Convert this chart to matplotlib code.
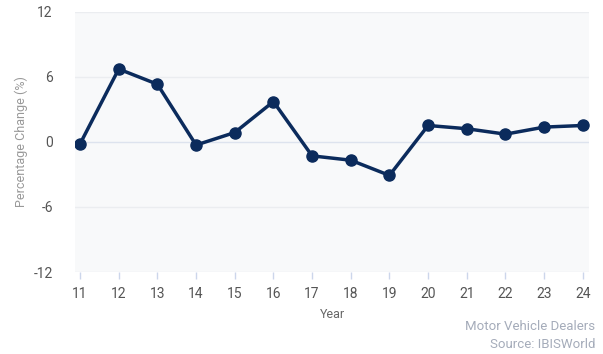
import matplotlib.pyplot as plt

plt.rcParams['font.family'] = ['Roboto', 'DejaVu Sans']

# data
years = [11, 12, 13, 14, 15, 16, 17, 18, 19, 20, 21, 22, 23, 24]
change = [-0.2, 6.7, 5.3, -0.3, 0.85, 3.7, -1.3, -1.7, -3.1, 1.5, 1.2, 0.7, 1.35, 1.5]
yticks = [-12, -6, 0, 6, 12]

fig = plt.figure(figsize=(6.03, 3.54), dpi=100)
ax = fig.add_axes([0.1244, 0.2316, 0.8524, 0.7359])
ax.set_facecolor('#f8f9fa')

# grid lines
for v in yticks:
    c = '#dde3ee' if v == 0 else '#ebedf0'
    ax.axhline(v, color=c, lw=1, zorder=1)

ax.plot(years, change, color='#0b2b5c', lw=2.5, marker='o', ms=8, zorder=3)

ax.set_xlim(10.87, 24.16)
ax.set_ylim(-12, 12)
ax.set_xticks(years)
ax.set_xticklabels([str(y) for y in years])
ax.set_yticks(yticks)
ax.set_yticklabels([str(v) for v in yticks])

for s in ax.spines.values():
    s.set_visible(False)

ax.tick_params(axis='y', length=0, pad=16, labelsize=10, labelcolor='#555555')
ax.tick_params(axis='x', length=5, width=1, color='#ccd6eb', pad=6,
               labelsize=10, labelcolor='#555555')

ax.set_xlabel('Year', fontsize=9, color='#666666', labelpad=5)
ax.set_ylabel('Percentage Change (%)', fontsize=9, color='#999999', labelpad=4)

fig.text(0.987, 0.077, 'Motor Vehicle Dealers', ha='right', va='center',
         fontsize=9.5, color='#a5acba')
fig.text(0.987, 0.027, 'Source: IBISWorld', ha='right', va='center',
         fontsize=9.5, color='#a5acba')

fig.savefig('out.png', dpi=100)
